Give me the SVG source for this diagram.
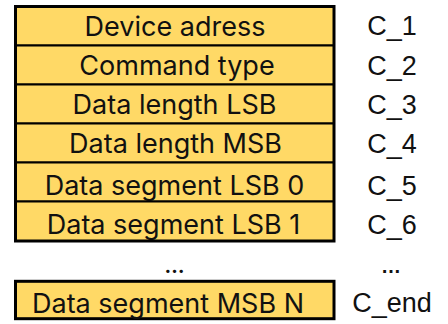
<svg xmlns="http://www.w3.org/2000/svg" width="448" height="324" viewBox="0 0 448 324">
<style>
.cell{fill:#FFD966;stroke:#000;stroke-width:2}
.frame{fill:none;stroke:#000;stroke-width:3}
.lbl{font-family:Inter,"Noto Sans",sans-serif;font-size:27px;fill:#111;text-anchor:middle}
.code{font-family:"Liberation Sans",Arial,sans-serif;font-size:27px;fill:#111;text-anchor:middle}
.dots{font-family:"Liberation Sans",Arial,sans-serif;font-size:20px;font-weight:bold;fill:#111;text-anchor:middle}
</style>
<rect width="448" height="324" fill="#fff"/>
<g id="row1"><rect class="cell" x="15.5" y="6.5" width="318.5" height="39"/><text class="lbl" x="175" y="36">Device adress</text></g>
<g id="row2"><rect class="cell" x="15.5" y="45.5" width="318.5" height="39"/><text class="lbl" x="177" y="75">Command type</text></g>
<g id="row3"><rect class="cell" x="15.5" y="84.5" width="318.5" height="39"/><text class="lbl" x="174.5" y="114">Data length LSB</text></g>
<g id="row4"><rect class="cell" x="15.5" y="123.5" width="318.5" height="39"/><text class="lbl" x="175.5" y="153">Data length MSB</text></g>
<g id="row5"><rect class="cell" x="15.5" y="162.5" width="318.5" height="39"/><text class="lbl" x="174.5" y="195">Data segment LSB 0</text></g>
<g id="row6"><rect class="cell" x="15.5" y="201.5" width="318.5" height="39.5"/><text class="lbl" x="173.5" y="234">Data segment LSB 1</text></g>
<rect class="frame" x="15.5" y="6.5" width="318.5" height="234.5"/>
<g id="rowN"><rect class="cell" x="15.5" y="281.3" width="318.5" height="37.4" style="stroke-width:3"/><text class="lbl" x="168" y="312.7">Data segment MSB N</text></g>
<g id="codes">
<text class="code" x="392" y="35">C_1</text>
<text class="code" x="392" y="75">C_2</text>
<text class="code" x="392" y="114">C_3</text>
<text class="code" x="392" y="153">C_4</text>
<text class="code" x="392" y="195">C_5</text>
<text class="code" x="392" y="234">C_6</text>
<text class="code" x="392" y="311.7">C_end</text>
</g>
<g id="ellipses">
<text class="dots" x="174.5" y="272.5" style="font-family:Inter,sans-serif">…</text>
<text class="dots" x="391" y="272.5">…</text>
</g>
<g id="connectors"/>
</svg>
